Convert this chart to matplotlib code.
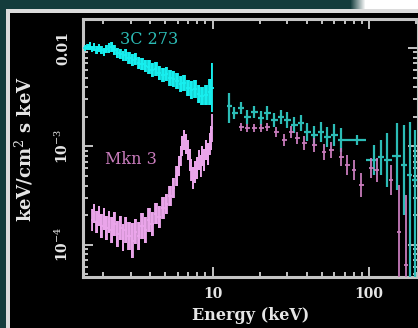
import numpy as np
import matplotlib
matplotlib.use("Agg")
import matplotlib.pyplot as plt
from matplotlib.patches import Rectangle
from matplotlib.colors import LinearSegmentedColormap
from matplotlib.ticker import FixedLocator, FixedFormatter, LogLocator, NullFormatter

# ---- data (energy in keV, flux in keV/cm^2 s keV) ----
# 3C 273, low-energy band (flux in units of 1e-3)
qso_lo_energy = [1.53, 1.60, 1.65, 1.70, 1.76, 1.82, 1.88, 1.95, 2.02, 2.10,
                 2.18, 2.27, 2.36, 2.46, 2.57, 2.68, 2.80, 2.93, 3.07, 3.22,
                 3.38, 3.55, 3.73, 3.92, 4.12, 4.34, 4.57, 4.81, 5.07, 5.34,
                 5.63, 5.93, 6.25, 6.59, 6.95, 7.33, 7.73, 8.15, 8.60, 9.07,
                 9.57, 9.95]
qso_lo_flux = [10.0, 10.24, 10.48, 9.77, 10.24, 9.54, 10.0, 9.54, 9.11, 9.77,
               10.0, 10.24, 9.54, 8.90, 8.69, 8.30, 8.49, 7.92, 7.56, 7.73,
               7.04, 6.88, 6.57, 6.42, 5.98, 6.12, 5.58, 5.32, 5.45, 4.96,
               4.85, 4.63, 4.31, 4.41, 3.93, 3.75, 3.84, 3.41, 3.26, 3.33,
               3.58, 3.93]
qso_lo_err_dex = [0.035, 0.035, 0.04, 0.035, 0.04, 0.04, 0.04, 0.045, 0.045, 0.045,
                  0.05, 0.05, 0.05, 0.055, 0.055, 0.055, 0.06, 0.06, 0.06, 0.06,
                  0.065, 0.065, 0.065, 0.07, 0.07, 0.07, 0.075, 0.075, 0.075, 0.08,
                  0.08, 0.08, 0.08, 0.085, 0.085, 0.09, 0.09, 0.09, 0.095, 0.10,
                  0.13, 0.25]

# Mkn 3, low-energy band (flux in units of 1e-4)
mkn_lo_energy = [1.70, 1.76, 1.82, 1.88, 1.95, 2.02, 2.10, 2.18, 2.27, 2.36,
                 2.46, 2.57, 2.68, 2.80, 2.93, 3.07, 3.22, 3.38, 3.55, 3.73,
                 3.92, 4.12, 4.34, 4.57, 4.81, 5.07, 5.34, 5.63, 5.93, 6.10,
                 6.25, 6.40, 6.59, 6.80, 6.95, 7.15, 7.33, 7.50, 7.73, 7.95,
                 8.15, 8.40, 8.60, 8.85, 9.07, 9.30, 9.57, 9.80, 9.95]
mkn_lo_flux = [1.79, 2.07, 1.71, 1.97, 1.56, 1.84, 1.49, 1.71, 1.42, 1.63,
               1.29, 1.49, 1.18, 1.42, 1.23, 1.10, 1.36, 1.23, 1.56, 1.42,
               1.79, 1.63, 2.07, 1.92, 2.37, 2.61, 3.14, 3.79, 5.01, 6.34,
               8.01, 10.1, 11.6, 10.6, 9.21, 7.30, 5.77, 4.79, 5.51, 6.05,
               7.30, 6.34, 8.01, 7.30, 9.21, 8.39, 10.6, 12.2, 15.4]
mkn_lo_err_dex = [0.11, 0.10, 0.11, 0.10, 0.12, 0.11, 0.12, 0.11, 0.13, 0.12,
                  0.13, 0.12, 0.14, 0.13, 0.14, 0.18, 0.13, 0.14, 0.13, 0.13,
                  0.12, 0.12, 0.11, 0.11, 0.11, 0.10, 0.10, 0.10, 0.10, 0.10,
                  0.10, 0.10, 0.10, 0.10, 0.10, 0.11, 0.11, 0.11, 0.11, 0.11,
                  0.10, 0.11, 0.10, 0.11, 0.10, 0.11, 0.11, 0.12, 0.14]

# 3C 273, high-energy points (flux, lower, upper in units of 1e-3)
qso_hi_energy = [12.8, 13.8, 15.3, 16.7, 18.5, 20.5, 22.4, 24.8, 27.5, 30.0,
                 33.3, 36.9, 40.3, 44.6, 49.4, 54.0, 59.8, 66.3, 83.9, 108,
                 119, 130, 151, 167, 182, 195]
qso_hi_flux = [2.58, 2.19, 2.46, 1.99, 2.24, 1.95, 2.19, 1.86, 1.99, 1.86,
               1.65, 1.73, 1.40, 1.31, 1.40, 1.25, 1.31, 1.16, 1.16, 0.730,
               0.782, 0.730, 0.801, 0.649, 0.514, 0.457]
qso_hi_low = [1.73, 1.90, 2.14, 1.69, 1.95, 1.65, 1.86, 1.58, 1.69, 1.54,
              1.37, 1.44, 1.14, 1.06, 1.11, 0.989, 1.01, 0.879, 1.04, 0.514,
              0.514, 0.388, 0.362, 0.202, 0.03, 0.03]
qso_hi_high = [3.49, 2.52, 2.83, 2.35, 2.58, 2.29, 2.58, 2.19, 2.35, 2.24,
               1.99, 2.09, 1.73, 1.61, 1.77, 1.58, 1.69, 1.54, 1.31, 1.04,
               1.16, 1.37, 1.73, 1.65, 1.77, 1.47]

# Mkn 3, high-energy points (flux, lower, upper in units of 1e-3)
mkn_hi_energy = [15.3, 16.7, 18.5, 20.5, 22.4, 25.6, 28.8, 31.8, 34.8, 38.5,
                 44.6, 51.6, 57.2, 66.3, 72.4, 80.2, 88.9, 103, 112, 138,
                 155, 172]
mkn_hi_flux = [1.58, 1.54, 1.54, 1.54, 1.58, 1.40, 1.16, 1.40, 1.22, 1.09,
               1.04, 0.879, 0.921, 0.782, 0.649, 0.577, 0.407, 0.605, 0.577, 0.457,
               0.136, 0.0627]
mkn_hi_low = [1.44, 1.40, 1.40, 1.40, 1.44, 1.25, 1.01, 1.22, 1.06, 0.925,
              0.883, 0.729, 0.764, 0.633, 0.514, 0.457, 0.307, 0.479, 0.436, 0.322,
              0.03, 0.03]
mkn_hi_high = [1.73, 1.69, 1.69, 1.69, 1.73, 1.57, 1.34, 1.61, 1.40, 1.28,
               1.23, 1.06, 1.11, 0.966, 0.820, 0.729, 0.539, 0.764, 0.764, 0.649,
               0.407, 0.322]

x_ticks = [10, 100]
x_tick_labels = ["10", "100"]
y_ticks = [1e-4, 1e-3, 1e-2]
y_tick_labels = [r"10$^{-4}$", r"10$^{-3}$", "0.01"]

# ---- colours ----
BG_TEAL = "#143c3c"
FRAME = "#dcdcdc"
AXIS_GRAY = "#c4c4c4"
TEXT = "#e6e6e6"
CYAN = "#18f0f0"
CYAN_DARK = "#2cbcb6"
PINK = "#eca6ec"
PINK_DARK = "#c87cbc"

plt.rcParams["font.family"] = ["DejaVu Serif"]
plt.rcParams["mathtext.fontset"] = "dejavuserif"

W, H = 418, 328
fig = plt.figure(figsize=(W / 100, H / 100), dpi=100, facecolor="black")


def px_rect(x0, y0, w, h, color):
    # rectangle given in image pixels (origin top-left)
    fig.patches.append(Rectangle((x0 / W, 1 - (y0 + h) / H), w / W, h / H,
                                 transform=fig.transFigure, color=color,
                                 zorder=0, lw=0))


# outer background: teal strip on the left and top, white fade top-right
px_rect(0, 0, 7, H, BG_TEAL)
px_rect(0, 0, 350, 9, BG_TEAL)
px_rect(365, 0, W - 365, 9, "white")
fade = LinearSegmentedColormap.from_list("fade", [BG_TEAL, "white"])
fig.figimage(fade(np.linspace(0, 1, 16))[np.newaxis, :, :3].repeat(9, axis=0),
             xo=350, yo=H - 9, zorder=1)
# light frame line
px_rect(6, 9, W - 6, 4, FRAME)
px_rect(6, 9, 4, H - 9, FRAME)

ax = fig.add_axes([83 / W, 1 - 277 / H, 335 / W, 258 / H])
ax.set_facecolor("black")
ax.set_xscale("log")
ax.set_yscale("log")
ax.set_xlim(1.49, 205)
ax.set_ylim(4.7e-5, 1.97e-2)


def bin_edges(e):
    edges = np.sqrt(e[:-1] * e[1:])
    left = np.concatenate([[e[0] ** 2 / edges[0]], edges])
    right = np.concatenate([edges, [e[-1] ** 2 / edges[-1]]])
    return left, right


def band(energy, flux, err_dex, scale, color):
    e = np.array(energy)
    f = np.array(flux) * scale
    d = 10 ** np.array(err_dex)
    lo, hi = f / d, f * d
    left, right = bin_edges(e)
    ax.fill_between(e, lo, hi, step="mid", color=color, lw=0, alpha=0.9, zorder=3)
    ax.errorbar(e, f, yerr=[f - lo, hi - f], xerr=[e - left, right - e],
                fmt="none", ecolor=color, elinewidth=1.3, capsize=0, zorder=4)


def points(energy, flux, low, high, scale, color, xerr=None, lw=1.2):
    e = np.array(energy, dtype=float)
    f = np.array(flux) * scale
    lo = np.array(low) * scale
    hi = np.array(high) * scale
    if xerr is None:
        left, right = bin_edges(e)
        xe = [e - left, right - e]
    else:
        xe = e * xerr
    ax.errorbar(e, f, yerr=[f - lo, hi - f], xerr=xe, fmt="none",
                ecolor=color, elinewidth=lw, capsize=0, zorder=4)


band(qso_lo_energy, qso_lo_flux, qso_lo_err_dex, 1e-3, CYAN)
band(mkn_lo_energy, mkn_lo_flux, mkn_lo_err_dex, 1e-4, PINK)
points(qso_hi_energy, qso_hi_flux, qso_hi_low, qso_hi_high, 1e-3, CYAN_DARK, lw=1.6)
points(mkn_hi_energy, mkn_hi_flux, mkn_hi_low, mkn_hi_high, 1e-3, PINK_DARK,
       xerr=0.035, lw=1.3)

ax.text(0.11, 0.92, "3C 273", transform=ax.transAxes, color=CYAN_DARK,
        fontsize=11.5, ha="left", va="center")
ax.text(0.065, 0.455, "Mkn 3", transform=ax.transAxes, color=PINK_DARK,
        fontsize=11.5, ha="left", va="center")

# axes styling
for s in ax.spines.values():
    s.set_color(AXIS_GRAY)
    s.set_linewidth(2.2)
ax.xaxis.set_major_locator(FixedLocator(x_ticks))
ax.xaxis.set_major_formatter(FixedFormatter(x_tick_labels))
ax.xaxis.set_minor_locator(LogLocator(base=10, subs=np.arange(2, 10)))
ax.xaxis.set_minor_formatter(NullFormatter())
ax.yaxis.set_major_locator(FixedLocator(y_ticks))
ax.yaxis.set_major_formatter(FixedFormatter(y_tick_labels))
ax.yaxis.set_minor_locator(LogLocator(base=10, subs=np.arange(2, 10)))
ax.yaxis.set_minor_formatter(NullFormatter())
ax.tick_params(which="both", direction="in", top=True, right=True,
               color=AXIS_GRAY, width=1.4, labelcolor=TEXT, labelsize=10)
ax.tick_params(which="major", length=7)
ax.tick_params(which="minor", length=3.5)
ax.tick_params(axis="x", which="major", pad=7)
ax.tick_params(axis="y", which="major", pad=9)
for lab in ax.get_xticklabels():
    lab.set_fontweight("bold")
for lab in ax.get_yticklabels():
    lab.set_rotation(90)
    lab.set_va("center")
    lab.set_fontweight("bold")

fig.text(251 / W, 1 - 316 / H, "Energy (keV)", color=TEXT, fontsize=11.5,
         fontweight="bold", ha="center", va="center")
fig.text(24 / W, 1 - 149 / H, r"keV/cm$^2$ s keV", color=TEXT, fontsize=13,
         fontweight="bold", ha="center", va="center", rotation=90)

fig.savefig("out.png", dpi=100, facecolor=fig.get_facecolor())
